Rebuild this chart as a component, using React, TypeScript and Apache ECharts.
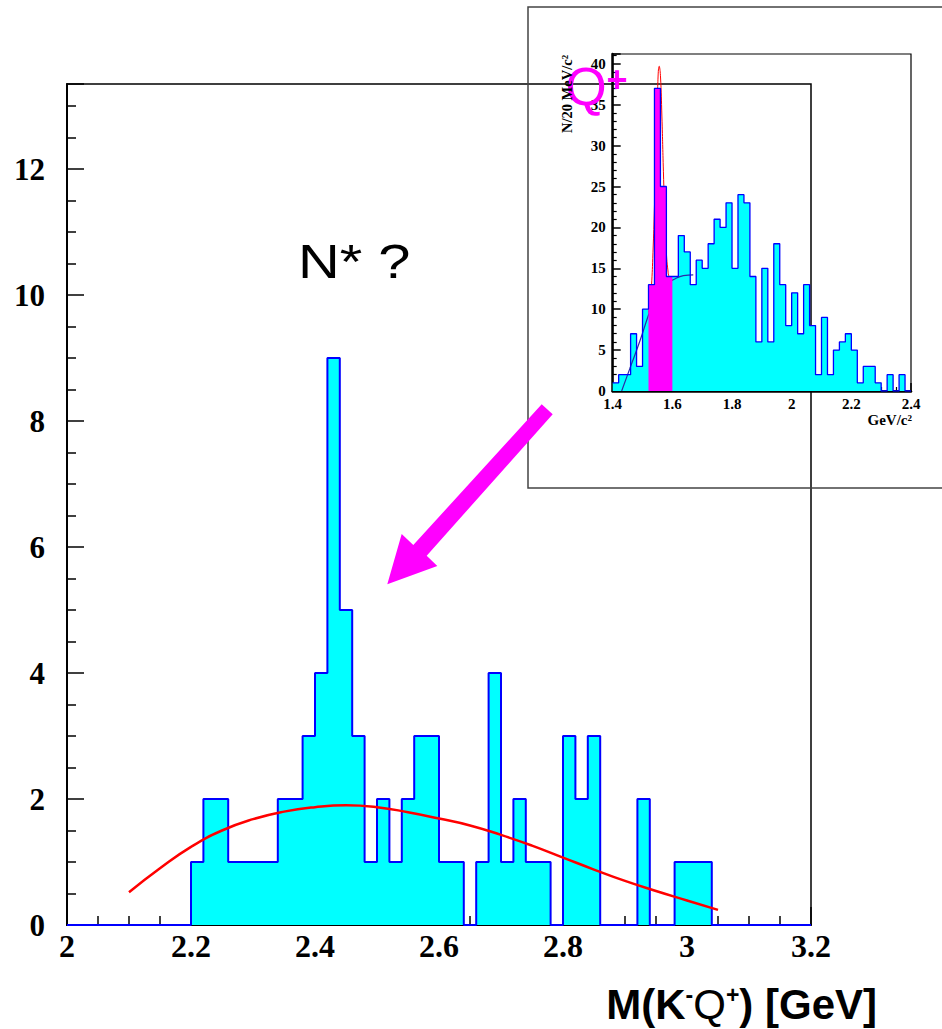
import React, { useEffect, useRef } from "react";
import * as echarts from "echarts";

// ---------- main histogram: M(K- Theta+) ----------
const mainBinStart = 2.0;
const mainBinWidth = 0.02;
const mainCounts = [
  0, 0, 0, 0, 0, 0, 0, 0, 0, 0,
  1, 2, 2, 1, 1, 1, 1, 2, 2, 3,
  4, 9, 5, 3, 1, 2, 1, 2, 3, 3,
  1, 1, 0, 1, 4, 1, 2, 1, 1, 0,
  3, 2, 3, 0, 0, 0, 2, 0, 0, 1,
  1, 1, 0, 0, 0, 0, 0, 0, 0, 0,
];
// fitted background curve
const mainCurve = [
  [2.1, 0.52], [2.15, 0.9], [2.2, 1.24], [2.25, 1.5], [2.3, 1.68], [2.35, 1.8],
  [2.4, 1.87], [2.45, 1.9], [2.5, 1.87], [2.55, 1.79], [2.6, 1.69], [2.65, 1.58],
  [2.7, 1.43], [2.75, 1.26], [2.8, 1.07], [2.85, 0.88], [2.9, 0.7], [2.95, 0.54],
  [3.0, 0.39], [3.05, 0.24],
];
const mainXTicks = { min: 2, max: 3.2, interval: 0.2 };
const mainYTicks = { min: 0, max: 13.35, interval: 2 };

// ---------- inset histogram: Theta+ ----------
const insetBinStart = 1.4;
const insetBinWidth = 0.02;
const insetCounts = [
  1, 2, 2, 7, 3, 10, 13, 37, 25, 14,
  14, 19, 17, 13, 16, 15, 18, 21, 20, 23,
  15, 24, 23, 14, 6, 15, 6, 18, 13, 8,
  12, 7, 13, 8, 2, 9, 2, 5, 6, 7,
  5, 1, 3, 3, 1, 0, 2, 0, 2, 0,
];
const peakFirstBin = 6; // 1.52
const peakLastBin = 9; // 1.58
const insetBgCurve = [
  [1.43, 0], [1.458, 2.8], [1.492, 6.2], [1.52, 9.3], [1.54, 11.2], [1.56, 12.4],
  [1.58, 13.1], [1.603, 13.6], [1.637, 14.1], [1.67, 14.2],
];
const insetPeakCurve = [
  [1.52, 9.6], [1.525, 10.6], [1.53, 12.8], [1.535, 16.9], [1.54, 22.6], [1.545, 30.0],
  [1.55, 36.3], [1.556, 39.7], [1.56, 38.6], [1.565, 33.5], [1.57, 26.8], [1.575, 21.0],
  [1.58, 16.9], [1.585, 14.8], [1.59, 13.9], [1.6, 13.6],
];
const insetXTicks = { min: 1.4, max: 2.4, interval: 0.2 };
const insetYTicks = { min: 0, max: 41.2, interval: 5 };

function stepPoints(start: number, width: number, counts: number[], from = 0, to = counts.length - 1) {
  const pts: number[][] = [];
  for (let i = from; i <= to; i++) pts.push([+(start + i * width).toFixed(4), counts[i]]);
  pts.push([+(start + (to + 1) * width).toFixed(4), counts[to]]);
  return pts;
}

const SERIF = "'Liberation Serif', 'Times New Roman', serif";
const SANS = "'Liberation Sans', Arial, sans-serif";

function buildOption() {
  const mainPts = stepPoints(mainBinStart, mainBinWidth, mainCounts);
  const insetPts = stepPoints(insetBinStart, insetBinWidth, insetCounts);
  const peakPts = stepPoints(insetBinStart, insetBinWidth, insetCounts, peakFirstBin, peakLastBin);

  const axisCommon = (big: boolean) => ({
    axisLine: { show: true, onZero: false, lineStyle: { color: "#000", width: big ? 2 : 2.5 } },
    axisTick: { show: true, inside: true, length: big ? 18 : 8, lineStyle: { color: "#000", width: 1.5 } },
    splitLine: { show: false },
    minorSplitLine: { show: false },
  });

  return {
    animation: false,
    backgroundColor: "#fff",
    grid: [
      { left: 67, top: 84, width: 744, height: 841, show: true, borderColor: "#000", borderWidth: 1.5, backgroundColor: "transparent" },
      { left: 612.7, top: 54, width: 298.3, height: 337, show: true, borderColor: "#000", borderWidth: 1.2, backgroundColor: "transparent" },
    ],
    xAxis: [
      {
        type: "value", gridIndex: 0, ...mainXTicks,
        ...axisCommon(true),
        minorTick: { show: true, splitNumber: 4, length: 9, lineStyle: { color: "#000", width: 1.5 } },
        axisLabel: { fontFamily: SERIF, fontWeight: "bold", fontSize: 32, color: "#000", margin: 5 },
      },
      {
        type: "value", gridIndex: 1, ...insetXTicks,
        ...axisCommon(false),
        minorTick: { show: true, splitNumber: 4, length: 4, lineStyle: { color: "#000", width: 1.2 } },
        axisLabel: { fontFamily: SERIF, fontWeight: "bold", fontSize: 15, color: "#000", margin: 5 },
      },
    ],
    yAxis: [
      {
        type: "value", gridIndex: 0, ...mainYTicks,
        ...axisCommon(true),
        axisTick: { show: true, inside: true, length: 17, lineStyle: { color: "#000", width: 1.5 } },
        minorTick: { show: true, splitNumber: 4, length: 9, lineStyle: { color: "#000", width: 1.5 } },
        axisLabel: { fontFamily: SERIF, fontWeight: "bold", fontSize: 31, color: "#000", margin: 22, showMaxLabel: false },
      },
      {
        type: "value", gridIndex: 1, ...insetYTicks,
        ...axisCommon(false),
        minorTick: { show: true, splitNumber: 5, length: 4, lineStyle: { color: "#000", width: 1.2 } },
        axisLabel: { fontFamily: SERIF, fontWeight: "bold", fontSize: 15, color: "#000", margin: 7, showMaxLabel: false },
      },
    ],
    series: [
      {
        type: "line", xAxisIndex: 0, yAxisIndex: 0, step: "end", data: mainPts, symbol: "none",
        lineStyle: { color: "#0000ff", width: 2 }, areaStyle: { color: "#00ffff", opacity: 1 }, z: 2,
      },
      {
        type: "line", xAxisIndex: 0, yAxisIndex: 0, data: mainCurve, smooth: true, symbol: "none",
        lineStyle: { color: "#ff0000", width: 2.5 }, z: 3,
      },
      {
        type: "line", xAxisIndex: 1, yAxisIndex: 1, step: "end", data: insetPts, symbol: "none",
        lineStyle: { width: 0, opacity: 0 }, areaStyle: { color: "#00ffff", opacity: 1 }, z: 4,
      },
      {
        type: "line", xAxisIndex: 1, yAxisIndex: 1, data: insetBgCurve, smooth: true, symbol: "none",
        lineStyle: { color: "#2a2aa8", width: 1.2 }, z: 5,
      },
      {
        type: "line", xAxisIndex: 1, yAxisIndex: 1, data: insetPeakCurve, smooth: true, symbol: "none",
        lineStyle: { color: "#ff0000", width: 1 }, z: 6,
      },
      {
        type: "line", xAxisIndex: 1, yAxisIndex: 1, step: "end", data: peakPts, symbol: "none",
        lineStyle: { width: 0, opacity: 0 }, areaStyle: { color: "#ff00ff", opacity: 1 }, z: 7,
      },
      {
        type: "line", xAxisIndex: 1, yAxisIndex: 1, step: "end", data: insetPts, symbol: "none",
        lineStyle: { color: "#0000ff", width: 1.3 }, z: 8,
      },
    ],
    graphic: [
      {
        type: "rect", z: 1, silent: true,
        shape: { x: 528, y: 7, width: 430, height: 481 },
        style: { fill: "none", stroke: "#444", lineWidth: 1.5 },
      },
      {
        type: "polygon", z: 20, silent: true,
        shape: {
          points: [
            [541.7, 404.3], [413.3, 545], [401.7, 534], [387.3, 584.3],
            [437.3, 566], [426.7, 555.7], [552.7, 414.3],
          ],
        },
        style: { fill: "#ff00ff" },
      },
      {
        type: "text", z: 20, x: 298, y: 261, scaleX: 1.18,
        style: { text: "N* ?", fontFamily: SANS, fontSize: 49, fill: "#000", align: "left", verticalAlign: "middle" },
      },
      {
        type: "text", z: 20, x: 565.5, y: 86,
        style: { text: "Q", fontFamily: SANS, fontSize: 53, fill: "#ff00ff", align: "left", verticalAlign: "middle" },
      },
      {
        type: "text", z: 20, x: 617, y: 79,
        style: { text: "+", fontFamily: SANS, fontWeight: "bold", fontSize: 36, fill: "#ff00ff", align: "center", verticalAlign: "middle" },
      },
      {
        type: "text", z: 20, x: 567, y: 55, rotation: Math.PI / 2,
        style: { text: "N/20 MeV/c²", fontFamily: SERIF, fontWeight: "bold", fontSize: 14.5, fill: "#000", align: "right", verticalAlign: "middle" },
      },
      {
        type: "text", z: 20, x: 912, y: 420,
        style: { text: "GeV/c²", fontFamily: SERIF, fontWeight: "bold", fontSize: 15, fill: "#000", align: "right", verticalAlign: "middle" },
      },
      {
        type: "text", z: 20, x: 877, y: 1004,
        style: {
          text: "{a|M(K}{s|-}{q|Q}{s|+}{a|) [GeV]}",
          align: "right", verticalAlign: "middle", fill: "#000",
          rich: {
            a: { fontFamily: SANS, fontWeight: "bold", fontSize: 42, fill: "#000" },
            q: { fontFamily: SANS, fontWeight: "normal", fontSize: 42, fill: "#000" },
            s: { fontFamily: SANS, fontWeight: "bold", fontSize: 23, fill: "#000", verticalAlign: "top" },
          },
        },
      },
    ],
  };
}

export default function App() {
  const ref = useRef<HTMLDivElement>(null);
  useEffect(() => {
    if (!ref.current) return;
    const chart = echarts.init(ref.current, null, { renderer: "svg" });
    chart.setOption(buildOption() as any);
    return () => chart.dispose();
  }, []);
  return (
    <div
      ref={ref}
      style={{ position: "fixed", left: 0, top: 0, width: 942, height: 1029, background: "#fff" }}
    />
  );
}
